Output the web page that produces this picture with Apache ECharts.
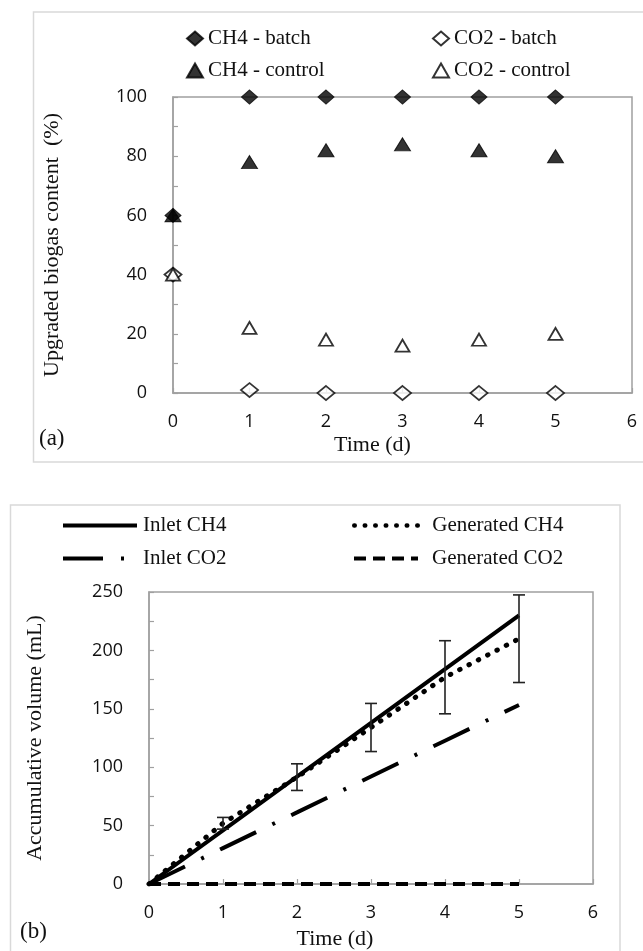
<!DOCTYPE html>
<html><head><meta charset="utf-8">
<script src="https://cdn.jsdelivr.net/npm/echarts@6/dist/echarts.min.js"></script>
<style>html,body{margin:0;padding:0;background:#fff}#c{width:643px;height:951px}</style>
</head><body><div id="c"></div>
<script>
// ---- data (a) ----
const days = [0, 1, 2, 3, 4, 5];
const ch4Batch = [60, 100, 100, 100, 100, 100];
const co2Batch = [40, 1, 0, 0, 0, 0];
const ch4Control = [60, 78, 82, 84, 82, 80];
const co2Control = [40, 22, 18, 16, 18, 20];
// ---- data (b) ----
const inletCH4 = [0, 46, 92, 138, 184, 230];
const generatedCH4 = [0, 52, 91.5, 134, 177, 210];
const generatedCH4Err = [0, 5, 11.4, 20.6, 31.3, 37.5];
const inletCO2 = [0, 30.7, 61.3, 92, 122.7, 153.3];
const generatedCO2 = [0, 0, 0, 0, 0, 0];
// ---- axis ticks ----
const xMin = 0, xMax = 6, xStep = 1;
const yAMax = 100, yAStep = 20;
const yBMax = 250, yBStep = 50;

const pairs = (vals) => days.map((d, i) => [d, vals[i]]);
const serif = 'Liberation Serif';
const sans = 'Open Sans';
const axisGray = '#a0a0a0';

function xAxis(gridIndex, gap, padRight) {
  return {
    type: 'value', gridIndex, min: xMin, max: xMax, interval: xStep,
    axisLine: { lineStyle: { color: axisGray, width: 1.5 } },
    axisTick: { inside: true, length: 5, lineStyle: { color: axisGray, width: 1.2 } },
    axisLabel: { margin: 20, fontFamily: sans, fontSize: 18, color: '#111' },
    splitLine: { show: false },
    name: 'Time (d)', nameLocation: 'middle', nameGap: gap,
    nameTextStyle: { fontFamily: serif, fontSize: 22, color: '#111', padding: [0, padRight, 0, 0] }
  };
}
function yAxis(gridIndex, max, step, name, gap) {
  return {
    type: 'value', gridIndex, min: 0, max, interval: step,
    axisLine: { show: true, lineStyle: { color: axisGray, width: 1.5 } },
    axisTick: { show: true, inside: true, length: 5, lineStyle: { color: axisGray, width: 1.2 } },
    minorTick: { show: true, splitNumber: 2, length: 5, lineStyle: { color: axisGray, width: 1.2 } },
    axisLabel: { margin: 26, fontFamily: sans, fontSize: 18, color: '#111' },
    splitLine: { show: false },
    name, nameLocation: 'middle', nameRotate: 90, nameGap: gap,
    nameTextStyle: { fontFamily: serif, fontSize: 22, color: '#111' }
  };
}

const filled = { color: '#000', borderColor: '#000', borderWidth: 1 };
const hollow = { color: '#fff', borderColor: '#000', borderWidth: 1.8 };

function legendAt(name, left, top, extra) {
  return Object.assign({
    data: [name], left, top, itemGap: 0, padding: 0,
    textStyle: { fontFamily: serif, fontSize: 21, color: '#111' },
    selectedMode: false
  }, extra || {});
}
const lineLegendText = { fontFamily: serif, fontSize: 21, color: '#111', padding: [0, 0, 0, 9] };

const option = {
  animation: false,
  backgroundColor: '#fff',
  grid: [
    { left: 173, top: 97, width: 459, height: 296, show: true, borderColor: axisGray, borderWidth: 1.5 },
    { left: 149, top: 592, width: 444, height: 293, show: true, borderColor: axisGray, borderWidth: 1.5 }
  ],
  xAxis: [xAxis(0, 41, 60), xAxis(1, 44, 72)],
  yAxis: [
    yAxis(0, yAMax, yAStep, 'Upgraded biogas content  (%)', 110),
    yAxis(1, yBMax, yBStep, 'Accumulative volume (mL)', 103)
  ],
  legend: [
    legendAt('CH4 - batch', 186, 28, { itemWidth: 16, itemHeight: 14 }),
    legendAt('CO2 - batch', 432, 28, { itemWidth: 16, itemHeight: 14 }),
    legendAt('CH4 - control', 186, 60, { itemWidth: 16, itemHeight: 14 }),
    legendAt('CO2 - control', 432, 60, { itemWidth: 16, itemHeight: 14 }),
    legendAt('Inlet CH4', 61, 515, { itemWidth: 74, itemHeight: 14, lineStyle: { width: 4 }, itemStyle: { opacity: 0 }, textStyle: Object.assign({}, lineLegendText, { padding: [0, 0, 0, 1] }) }),
    legendAt('Generated CH4', 352, 515, { itemWidth: 64, itemHeight: 14, lineStyle: { width: 4.5 }, itemStyle: { opacity: 0 }, textStyle: lineLegendText }),
    legendAt('Inlet CO2', 61, 548, { itemWidth: 74, itemHeight: 14, lineStyle: { width: 4 }, itemStyle: { opacity: 0 }, textStyle: Object.assign({}, lineLegendText, { padding: [0, 0, 0, 1] }) }),
    legendAt('Generated CO2', 352, 548, { itemWidth: 64, itemHeight: 14, lineStyle: { width: 4 }, itemStyle: { opacity: 0 }, textStyle: lineLegendText })
  ],
  series: [
    { name: 'CH4 - batch', type: 'scatter', xAxisIndex: 0, yAxisIndex: 0, symbol: 'diamond', symbolSize: [16, 14], itemStyle: filled, data: pairs(ch4Batch), z: 3 },
    { name: 'CO2 - batch', type: 'scatter', xAxisIndex: 0, yAxisIndex: 0, symbol: 'diamond', symbolSize: [17, 14], itemStyle: hollow, data: pairs(co2Batch), z: 3 },
    { name: 'CH4 - control', type: 'scatter', xAxisIndex: 0, yAxisIndex: 0, symbol: 'triangle', symbolSize: [16, 13], itemStyle: filled, data: pairs(ch4Control), z: 4 },
    { name: 'CO2 - control', type: 'scatter', xAxisIndex: 0, yAxisIndex: 0, symbol: 'triangle', symbolSize: [14, 12], itemStyle: hollow, data: pairs(co2Control), z: 4 },

    { name: 'Inlet CH4', type: 'line', xAxisIndex: 1, yAxisIndex: 1, symbol: 'none', showSymbol: false,
      lineStyle: { color: '#000', width: 4 }, itemStyle: { color: '#000' }, data: pairs(inletCH4), z: 4 },
    { name: 'Generated CH4', type: 'line', xAxisIndex: 1, yAxisIndex: 1, symbol: 'none', showSymbol: false,
      lineStyle: { color: '#000', width: 5, type: [0.5, 10], cap: 'round' }, itemStyle: { color: '#000' }, data: pairs(generatedCH4), z: 3 },
    { name: 'Inlet CO2', type: 'line', xAxisIndex: 1, yAxisIndex: 1, symbol: 'none', showSymbol: false,
      lineStyle: { color: '#000', width: 4, type: [40, 18, 3, 18] }, itemStyle: { color: '#000' }, data: pairs(inletCO2), z: 3 },
    { name: 'Generated CO2', type: 'line', xAxisIndex: 1, yAxisIndex: 1, symbol: 'none', showSymbol: false,
      lineStyle: { color: '#000', width: 4, type: [12, 7] }, itemStyle: { color: '#000' }, data: pairs(generatedCO2), z: 3 },
    { name: 'Generated CH4 error', type: 'custom', xAxisIndex: 1, yAxisIndex: 1, z: 5,
      data: days.map((d, i) => [d, generatedCH4[i], generatedCH4Err[i]]),
      renderItem: function (params, api) {
        const x = api.value(0), y = api.value(1), e = api.value(2);
        if (!e) return null;
        const t = api.coord([x, y + e]), b = api.coord([x, y - e]);
        const hw = 6, st = { stroke: '#222', lineWidth: 1.6 };
        return { type: 'group', children: [
          { type: 'line', shape: { x1: t[0], y1: t[1], x2: b[0], y2: b[1] }, style: st },
          { type: 'line', shape: { x1: t[0] - hw, y1: t[1], x2: t[0] + hw, y2: t[1] }, style: st },
          { type: 'line', shape: { x1: b[0] - hw, y1: b[1], x2: b[0] + hw, y2: b[1] }, style: st }
        ] };
      }
    }
  ],
  graphic: [
    { type: 'rect', shape: { x: 33.5, y: 12, width: 640, height: 450 }, style: { fill: 'none', stroke: '#d9d9d9', lineWidth: 1.5 }, silent: true },
    { type: 'rect', shape: { x: 10.5, y: 505, width: 609.5, height: 470 }, style: { fill: 'none', stroke: '#d9d9d9', lineWidth: 1.5 }, silent: true },
    { type: 'text', left: 39, top: 427, style: { text: '(a)', fontFamily: serif, fontSize: 23, fill: '#111' } },
    { type: 'text', left: 20, top: 920, style: { text: '(b)', fontFamily: serif, fontSize: 23, fill: '#111' } }
  ]
};

const chart = echarts.init(document.getElementById('c'), null, { renderer: 'canvas' });
chart.setOption(option);
</script>
</body></html>
